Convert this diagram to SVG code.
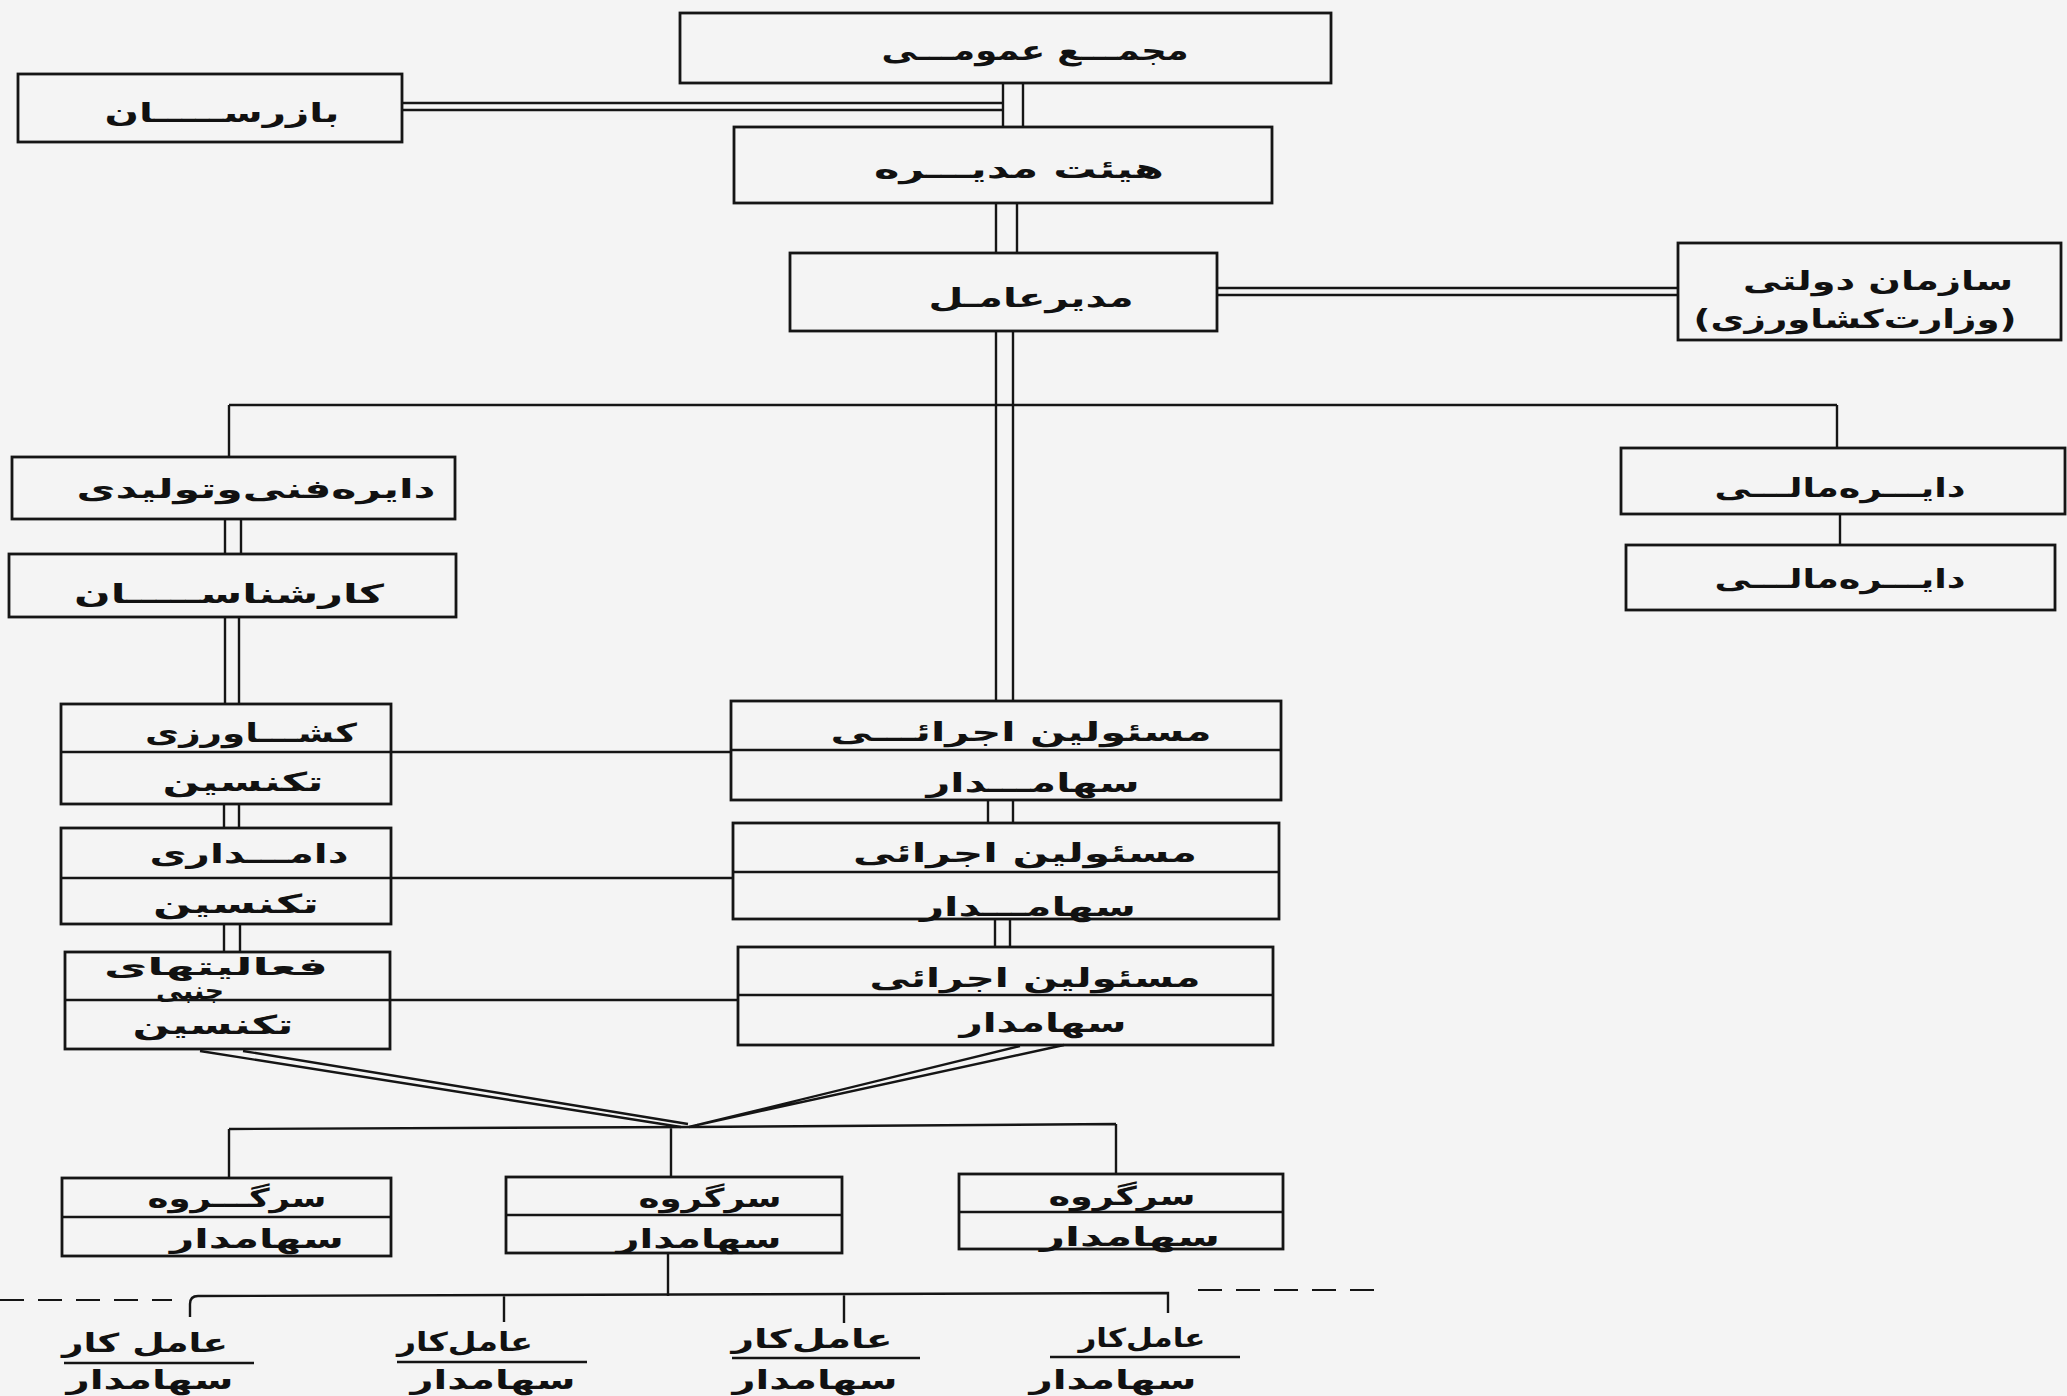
<svg xmlns="http://www.w3.org/2000/svg" width="2067" height="1396" viewBox="0 0 2067 1396">
<style>
.bx{fill:none;stroke:#151515;stroke-width:2.8}
.ln{fill:none;stroke:#151515;stroke-width:2.4}
.dl{fill:none;stroke:#151515;stroke-width:2.2;stroke-dasharray:24 14}
.t{font-family:"DejaVu Sans",sans-serif;font-weight:bold;font-size:26px;fill:#111;text-anchor:middle;direction:rtl}
.big{font-size:27px}
.sm{font-size:24px}
</style>
<rect width="2067" height="1396" fill="#f4f4f4"/>
<g id="connectors">
<path class="ln" d="M402 103H1003M402 110H1003"/>
<path class="ln" d="M1003 83V127M1023 83V127"/>
<path class="ln" d="M996 203V253M1017 203V253"/>
<path class="ln" d="M1217 288H1678M1217 295H1678"/>
<path class="ln" d="M996 331V701M1013 331V701"/>
<path class="ln" d="M229 405H1837M229 405V457M1837 405V448"/>
<path class="ln" d="M1840 514V545"/>
<path class="ln" d="M225 519V554M241 519V554"/>
<path class="ln" d="M225 617V704M239 617V704"/>
<path class="ln" d="M224 804V828M239 804V828"/>
<path class="ln" d="M224 924V952M240 924V952"/>
<path class="ln" d="M988 800V823M1013 800V823"/>
<path class="ln" d="M995 919V947M1010 919V947"/>
<path class="ln" d="M391 752H731M391 878H733M390 1000H738"/>
<path class="ln" d="M200 1051L681 1127M243 1051L688 1124"/>
<path class="ln" d="M1020 1046L689 1127M1064 1045L697 1125"/>
<path class="ln" d="M229 1129L690 1127L1116 1124M229 1129V1178M671 1127V1177M1116 1124V1174"/>
<path class="ln" d="M668 1253V1296"/>
<path class="ln" d="M190 1317V1304Q190 1296 198 1296L1168 1293V1313M504 1295V1322M844 1294V1323"/>
<path class="dl" d="M0 1300H172"/>
<path class="dl" d="M1198 1290H1383"/>
<path class="ln" d="M64 1363H254M397 1362H587M732 1358H920M1050 1357H1240"/>
</g>
<g id="majma"><rect class="bx" x="680" y="13" width="651" height="70"/><text class="t big" x="1035" y="60" textLength="307" lengthAdjust="spacingAndGlyphs">مجمـــع عمومـــی</text></g>
<g id="bazrasan"><rect class="bx" x="18" y="74" width="384" height="68"/><text class="t" x="222" y="122" textLength="235" lengthAdjust="spacingAndGlyphs">بازرســـــان</text></g>
<g id="heyat"><rect class="bx" x="734" y="127" width="538" height="76"/><text class="t" x="1019" y="178" textLength="290" lengthAdjust="spacingAndGlyphs">هیئت مدیـــره</text></g>
<g id="modir"><rect class="bx" x="790" y="253" width="427" height="78"/><text class="t" x="1031" y="307" textLength="205" lengthAdjust="spacingAndGlyphs">مدیرعامـل</text></g>
<g id="sazman"><rect class="bx" x="1678" y="243" width="383" height="97"/><text class="t" x="1878" y="290" textLength="270" lengthAdjust="spacingAndGlyphs">سازمان دولتی</text><text class="t" x="1855" y="328" textLength="323" lengthAdjust="spacingAndGlyphs">(وزارت‌کشاورزی)</text></g>
<g id="fani"><rect class="bx" x="12" y="457" width="443" height="62"/><text class="t" x="256" y="498" textLength="359" lengthAdjust="spacingAndGlyphs">دایره‌فنی‌وتولیدی</text></g>
<g id="karshenasan"><rect class="bx" x="9" y="554" width="447" height="63"/><text class="t" x="229" y="603" textLength="310" lengthAdjust="spacingAndGlyphs">کارشناســـــان</text></g>
<g id="mali1"><rect class="bx" x="1621" y="448" width="444" height="66"/><text class="t" x="1840" y="497" textLength="251" lengthAdjust="spacingAndGlyphs">دایـــره‌مالـــی</text></g>
<g id="mali2"><rect class="bx" x="1626" y="545" width="429" height="65"/><text class="t" x="1840" y="588" textLength="251" lengthAdjust="spacingAndGlyphs">دایـــره‌مالـــی</text></g>
<g id="keshavarzi"><rect class="bx" x="61" y="704" width="330" height="100"/><path class="ln" d="M61 752H391"/><text class="t" x="251" y="742" textLength="212" lengthAdjust="spacingAndGlyphs">کشـــاورزی</text><text class="t" x="243" y="791" textLength="161" lengthAdjust="spacingAndGlyphs">تکنسین</text></g>
<g id="damdari"><rect class="bx" x="61" y="828" width="330" height="96"/><path class="ln" d="M61 878H391"/><text class="t" x="249" y="863" textLength="199" lengthAdjust="spacingAndGlyphs">دامـــداری</text><text class="t" x="236" y="913" textLength="166" lengthAdjust="spacingAndGlyphs">تکنسین</text></g>
<g id="faaliat"><rect class="bx" x="65" y="952" width="325" height="97"/><path class="ln" d="M65 1000H390"/><text class="t sm" x="216" y="975" textLength="224" lengthAdjust="spacingAndGlyphs">فعالیتهای</text><text class="t sm" x="190" y="999" textLength="68" lengthAdjust="spacingAndGlyphs">جنبی</text><text class="t" x="213" y="1034" textLength="161" lengthAdjust="spacingAndGlyphs">تکنسین</text></g>
<g id="masool1"><rect class="bx" x="731" y="701" width="550" height="99"/><path class="ln" d="M731 750H1281"/><text class="t" x="1021" y="741" textLength="381" lengthAdjust="spacingAndGlyphs">مسئولین اجرائـــی</text><text class="t" x="1033" y="792" textLength="213" lengthAdjust="spacingAndGlyphs">سهامـــدار</text></g>
<g id="masool2"><rect class="bx" x="733" y="823" width="546" height="96"/><path class="ln" d="M733 872H1279"/><text class="t" x="1025" y="862" textLength="344" lengthAdjust="spacingAndGlyphs">مسئولین اجرائی</text><text class="t" x="1028" y="916" textLength="216" lengthAdjust="spacingAndGlyphs">سهامـــدار</text></g>
<g id="masool3"><rect class="bx" x="738" y="947" width="535" height="98"/><path class="ln" d="M738 995H1273"/><text class="t" x="1035" y="987" textLength="331" lengthAdjust="spacingAndGlyphs">مسئولین اجرائی</text><text class="t" x="1043" y="1032" textLength="167" lengthAdjust="spacingAndGlyphs">سهامدار</text></g>
<g id="sargoroohL"><rect class="bx" x="62" y="1178" width="329" height="78"/><path class="ln" d="M62 1217H391"/><text class="t" x="237" y="1207" textLength="179" lengthAdjust="spacingAndGlyphs">سرگـــروه</text><text class="t" x="257" y="1248" textLength="174" lengthAdjust="spacingAndGlyphs">سهامدار</text></g>
<g id="sargoroohM"><rect class="bx" x="506" y="1177" width="336" height="76"/><path class="ln" d="M506 1215H842"/><text class="t" x="710" y="1207" textLength="143" lengthAdjust="spacingAndGlyphs">سرگروه</text><text class="t" x="699" y="1248" textLength="165" lengthAdjust="spacingAndGlyphs">سهامدار</text></g>
<g id="sargoroohR"><rect class="bx" x="959" y="1174" width="324" height="75"/><path class="ln" d="M959 1212H1283"/><text class="t" x="1122" y="1205" textLength="147" lengthAdjust="spacingAndGlyphs">سرگروه</text><text class="t" x="1130" y="1246" textLength="180" lengthAdjust="spacingAndGlyphs">سهامدار</text></g>
<g id="amel1"><text class="t" x="145" y="1352" textLength="166" lengthAdjust="spacingAndGlyphs">عامل کار</text><text class="t" x="150" y="1389" textLength="167" lengthAdjust="spacingAndGlyphs">سهامدار</text></g>
<g id="amel2"><text class="t" x="465" y="1351" textLength="136" lengthAdjust="spacingAndGlyphs">عامل‌کار</text><text class="t" x="493" y="1389" textLength="165" lengthAdjust="spacingAndGlyphs">سهامدار</text></g>
<g id="amel3"><text class="t" x="812" y="1348" textLength="161" lengthAdjust="spacingAndGlyphs">عامل‌کار</text><text class="t" x="815" y="1389" textLength="165" lengthAdjust="spacingAndGlyphs">سهامدار</text></g>
<g id="amel4"><text class="t" x="1142" y="1347" textLength="127" lengthAdjust="spacingAndGlyphs">عامل‌کار</text><text class="t" x="1113" y="1389" textLength="167" lengthAdjust="spacingAndGlyphs">سهامدار</text></g>
</svg>
